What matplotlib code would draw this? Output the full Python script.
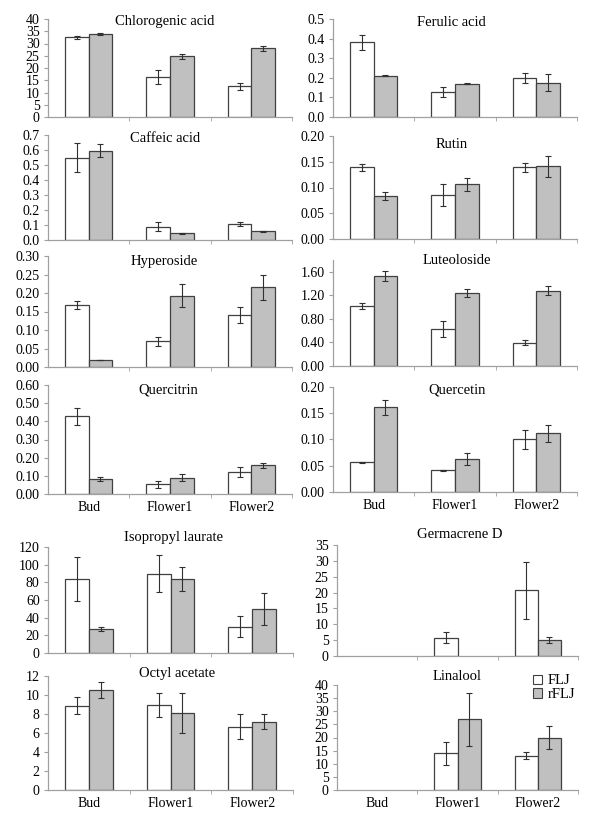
import numpy as np
import matplotlib
matplotlib.use('Agg')
import matplotlib.pyplot as plt
from matplotlib.patches import Patch

plt.rcParams['font.family'] = ['Liberation Serif', 'DejaVu Serif']

stages = ['Bud', 'Flower1', 'Flower2']
series = ['FLJ', 'rFLJ']
nan = np.nan

# mean and error bar, order = Bud, Flower1, Flower2
chlorogenic_flj = [32.6, 16.3, 12.5]
chlorogenic_flj_sd = [0.6, 2.8, 1.5]
chlorogenic_rflj = [33.9, 24.8, 28.0]
chlorogenic_rflj_sd = [0.4, 1.0, 1.0]

caffeic_flj = [0.55, 0.089, 0.104]
caffeic_flj_sd = [0.095, 0.03, 0.013]
caffeic_rflj = [0.596, 0.044, 0.058]
caffeic_rflj_sd = [0.045, 0.005, 0.003]

hyperoside_flj = [0.168, 0.069, 0.140]
hyperoside_flj_sd = [0.011, 0.012, 0.021]
hyperoside_rflj = [0.019, 0.193, 0.216]
hyperoside_rflj_sd = [0.001, 0.030, 0.034]

quercitrin_flj = [0.429, 0.053, 0.121]
quercitrin_flj_sd = [0.047, 0.018, 0.030]
quercitrin_rflj = [0.080, 0.090, 0.157]
quercitrin_rflj_sd = [0.011, 0.020, 0.012]

ferulic_flj = [0.381, 0.126, 0.197]
ferulic_flj_sd = [0.038, 0.025, 0.026]
ferulic_rflj = [0.210, 0.169, 0.175]
ferulic_rflj_sd = [0.003, 0.003, 0.042]

rutin_flj = [0.139, 0.086, 0.139]
rutin_flj_sd = [0.007, 0.021, 0.009]
rutin_rflj = [0.083, 0.106, 0.141]
rutin_rflj_sd = [0.008, 0.013, 0.020]

luteoloside_flj = [1.016, 0.624, 0.397]
luteoloside_flj_sd = [0.05, 0.14, 0.045]
luteoloside_rflj = [1.532, 1.237, 1.282]
luteoloside_rflj_sd = [0.085, 0.068, 0.074]

quercetin_flj = [0.057, 0.041, 0.100]
quercetin_flj_sd = [0.001, 0.001, 0.019]
quercetin_rflj = [0.161, 0.063, 0.112]
quercetin_rflj_sd = [0.015, 0.012, 0.016]

isopropyl_flj = [83.5, 89.6, 30.0]
isopropyl_flj_sd = [25.0, 21.0, 11.5]
isopropyl_rflj = [27.0, 83.5, 50.0]
isopropyl_rflj_sd = [2.0, 13.5, 18.0]

octyl_flj = [8.85, 8.95, 6.65]
octyl_flj_sd = [0.9, 1.25, 1.3]
octyl_rflj = [10.5, 8.1, 7.2]
octyl_rflj_sd = [0.85, 2.15, 0.8]

germacrene_flj = [nan, 5.8, 20.7]
germacrene_flj_sd = [nan, 1.7, 8.9]
germacrene_rflj = [nan, nan, 5.0]
germacrene_rflj_sd = [nan, nan, 0.9]

linalool_flj = [nan, 14.0, 13.1]
linalool_flj_sd = [nan, 4.3, 1.4]
linalool_rflj = [nan, 26.9, 20.0]
linalool_rflj_sd = [nan, 10.2, 4.3]

# title, data, ymax, ytick step, label format,
# plot box in pixels (left, top, right, bottom), title centre in pixels, show x labels
panels = [
    ('Chlorogenic acid', chlorogenic_flj, chlorogenic_flj_sd, chlorogenic_rflj, chlorogenic_rflj_sd,
     40, 5, '%d', (48, 19, 292, 117), (165, 22), False),
    ('Caffeic acid', caffeic_flj, caffeic_flj_sd, caffeic_rflj, caffeic_rflj_sd,
     0.7, 0.1, '%.1f', (48, 135, 292, 240), (165, 138), False),
    ('Hyperoside', hyperoside_flj, hyperoside_flj_sd, hyperoside_rflj, hyperoside_rflj_sd,
     0.30, 0.05, '%.2f', (48, 256, 292, 367), (164, 262), False),
    ('Quercitrin', quercitrin_flj, quercitrin_flj_sd, quercitrin_rflj, quercitrin_rflj_sd,
     0.60, 0.10, '%.2f', (48, 385, 292, 494), (168, 390), True),
    ('Ferulic acid', ferulic_flj, ferulic_flj_sd, ferulic_rflj, ferulic_rflj_sd,
     0.5, 0.1, '%.1f', (333, 19, 577, 117), (451, 22), False),
    ('Rutin', rutin_flj, rutin_flj_sd, rutin_rflj, rutin_rflj_sd,
     0.20, 0.05, '%.2f', (333, 136, 577, 239), (452, 145), False),
    ('Luteoloside', luteoloside_flj, luteoloside_flj_sd, luteoloside_rflj, luteoloside_rflj_sd,
     1.8, 0.4, '%.2f', (333, 260, 577, 366), (457, 260), False),
    ('Quercetin', quercetin_flj, quercetin_flj_sd, quercetin_rflj, quercetin_rflj_sd,
     0.20, 0.05, '%.2f', (333, 387, 577, 492), (457, 390), True),
    ('Isopropyl laurate', isopropyl_flj, isopropyl_flj_sd, isopropyl_rflj, isopropyl_rflj_sd,
     120, 20, '%d', (48, 547, 293, 653), (173, 537), False),
    ('Octyl acetate', octyl_flj, octyl_flj_sd, octyl_rflj, octyl_rflj_sd,
     12, 2, '%d', (48, 676, 293, 790), (177, 673), True),
    ('Germacrene D', germacrene_flj, germacrene_flj_sd, germacrene_rflj, germacrene_rflj_sd,
     35, 5, '%d', (337, 545, 578, 656), (460, 535), False),
    ('Linalool', linalool_flj, linalool_flj_sd, linalool_rflj, linalool_rflj_sd,
     40, 5, '%d', (337, 685, 578, 790), (457, 676), True),
]

W, H = 600, 825
fig = plt.figure(figsize=(W / 100, H / 100), dpi=100)

bar_w = 0.29
edge = '#404040'
grey = '#c0c0c0'
axis_col = '#a0a0a0'
x = np.arange(len(stages))

axes = {}
for title, f, fsd, r, rsd, ymax, step, fmt, box, tpos, xlab in panels:
    l, t, rr, b = box
    ax = fig.add_axes([l / W, 1 - b / H, (rr - l) / W, (b - t) / H])
    axes[title] = ax
    ax.bar(x - bar_w / 2, f, bar_w, color='white', edgecolor=edge, linewidth=0.9, zorder=2)
    ax.bar(x + bar_w / 2, r, bar_w, color=grey, edgecolor=edge, linewidth=0.9, zorder=2)
    ax.errorbar(x - bar_w / 2, f, yerr=fsd, fmt='none', ecolor='#303030',
                elinewidth=0.8, capsize=2.3, capthick=0.8, zorder=3)
    ax.errorbar(x + bar_w / 2, r, yerr=rsd, fmt='none', ecolor='#303030',
                elinewidth=0.8, capsize=2.3, capthick=0.8, zorder=3)

    ax.set_xlim(-0.5, 2.5)
    ax.set_ylim(0, ymax)
    ticks = np.arange(0, ymax + step * 0.01, step)
    ax.set_yticks(ticks)
    ax.set_yticklabels([fmt % v for v in ticks], fontsize=10)
    ax.set_xticks(x)
    if xlab:
        ax.set_xticklabels(stages, fontsize=10)
    else:
        ax.set_xticklabels([])
    ax.set_xticks([0.5, 1.5, 2.5], minor=True)
    ax.tick_params(axis='x', which='major', length=0, pad=5)
    ax.tick_params(axis='x', which='minor', length=3, color=axis_col, direction='out')
    ax.tick_params(axis='y', length=3, color=axis_col, pad=3)

    for s in ['top', 'right']:
        ax.spines[s].set_visible(False)
    for s in ['left', 'bottom']:
        ax.spines[s].set_color(axis_col)
        ax.spines[s].set_linewidth(0.9)
    ax.patch.set_alpha(0)

    fig.text(tpos[0] / W, 1 - tpos[1] / H, title, fontsize=10.5,
             ha='center', va='center')

handles = [Patch(facecolor='white', edgecolor=edge, linewidth=0.8),
           Patch(facecolor=grey, edgecolor=edge, linewidth=0.8)]
fig.legend(handles, series, loc='upper left', bbox_to_anchor=(526 / W, 1 - 667 / H),
           frameon=False, fontsize=10.5, handlelength=0.6, handleheight=0.6,
           handletextpad=0.4, labelspacing=0.05, borderpad=0)

fig.savefig('out.png', dpi=100)
